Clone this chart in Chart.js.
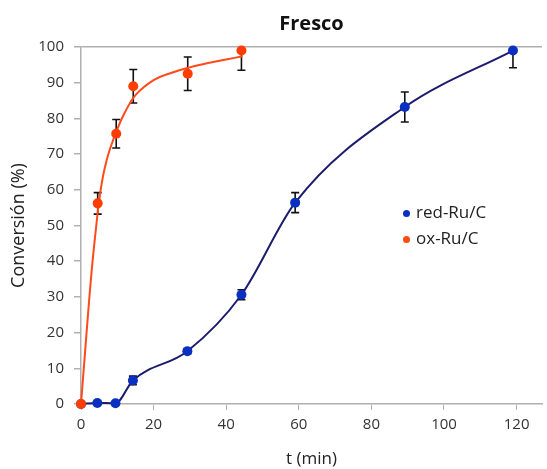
<!DOCTYPE html>
<html>
<head>
<meta charset="utf-8">
<script src="https://cdn.jsdelivr.net/npm/chart.js@4"></script>
<style>
    html, body { margin: 0; padding: 0; background: #fff; }
    #wrap { position: relative; width: 547px; height: 469px; }
    .leg { position: absolute; font: 17px 'Open Sans', sans-serif; color: #222; white-space: nowrap; }
    .leg span { display: inline-block; width: 7px; height: 7px; border-radius: 50%; margin-right: 6px; vertical-align: middle; }
</style>
</head>
<body>
<div id="wrap">
    <canvas id="chart" width="547" height="469"></canvas>
    <div class="leg" style="left:403px; top:200px;"><span style="background:#0B2FC0"></span>red-Ru/C</div>
    <div class="leg" style="left:403px; top:226px;"><span style="background:#FF4A10"></span>ox-Ru/C</div>
</div>
<script>
// red-Ru/C measurements (time in min, conversion in %)
const tRed = [0, 4.5, 9.5, 14.3, 29.3, 44.2, 59, 89.2, 119];
const convRed = [0, 0.3, 0.2, 6.6, 14.8, 30.6, 56.4, 83.2, 99];
const errRed = [0, 0, 0, 1.2, 0.7, 1.4, 2.8, 4.2, 4.8];

// ox-Ru/C measurements
const tOx = [0, 4.6, 9.7, 14.4, 29.4, 44.2];
const convOx = [0, 56.2, 75.7, 89, 92.5, 99];
const errOx = [0, 3, 4, 4.7, 4.7, 5.5];

// ox-Ru/C fitted curve
const tFit = [0, 1, 2, 3, 4, 5, 6, 7, 8, 10, 12, 15, 20, 25, 30, 35, 40, 44.5];
const convFit = [0, 13, 26, 38, 48, 57, 63.5, 68, 71.5, 77, 81.5, 86.5, 90.7, 92.8, 94.3, 95.5, 96.5, 97.4];

const xTicks = [0, 20, 40, 60, 80, 100, 120];

const toPoints = (xs, ys) => xs.map((x, i) => ({ x: x, y: ys[i] }));

// error bars drawn under the markers
const errorBars = {
    id: 'errorBars',
    beforeDatasetsDraw(chart) {
        const ctx = chart.ctx;
        const xs = chart.scales.x, ys = chart.scales.y;
        const area = chart.chartArea;
        ctx.save();
        ctx.beginPath();
        ctx.rect(area.left, area.top, area.right - area.left, area.bottom - area.top);
        ctx.clip();
        ctx.strokeStyle = '#111';
        ctx.lineWidth = 1.6;
        [[tOx, convOx, errOx], [tRed, convRed, errRed]].forEach(([t, c, e]) => {
            t.forEach((tv, i) => {
                if (!e[i]) return;
                const px = xs.getPixelForValue(tv);
                const top = ys.getPixelForValue(c[i] + e[i]);
                const bot = ys.getPixelForValue(c[i] - e[i]);
                ctx.beginPath();
                ctx.moveTo(px, top); ctx.lineTo(px, bot);
                ctx.moveTo(px - 4, top); ctx.lineTo(px + 4, top);
                ctx.moveTo(px - 4, bot); ctx.lineTo(px + 4, bot);
                ctx.stroke();
            });
        });
        ctx.restore();
    }
};

new Chart(document.getElementById('chart'), {
    type: 'scatter',
    data: {
        datasets: [
            {
                label: 'ox-Ru/C',
                data: toPoints(tOx, convOx),
                backgroundColor: '#FF3D00',
                pointRadius: 5,
                pointBorderWidth: 0,
                showLine: false,
                clip: false
            },
            {
                label: 'ox-Ru/C fit',
                data: toPoints(tFit, convFit),
                borderColor: '#FF4A1A',
                borderWidth: 2,
                pointRadius: 0,
                showLine: true,
                tension: 0.4,
                clip: false
            },
            {
                label: 'red-Ru/C',
                data: toPoints(tRed, convRed),
                borderColor: '#1C1C6C',
                backgroundColor: '#0B2FC0',
                borderWidth: 2,
                pointRadius: 5,
                pointBorderWidth: 0,
                showLine: true,
                cubicInterpolationMode: 'monotone',
                clip: false
            }
        ]
    },
    options: {
        responsive: false,
        animation: false,
        layout: { padding: { top: 0, right: 0, bottom: 0, left: 0 } },
        plugins: {
            legend: { display: false },
            tooltip: { enabled: false },
            title: {
                display: true,
                text: 'Fresco',
                fullSize: false,
                color: '#111',
                font: { family: 'Open Sans', size: 20, weight: 'bold' },
                padding: { top: 12, bottom: 11 }
            }
        },
        scales: {
            x: {
                type: 'linear',
                min: 0,
                max: 127,
                afterBuildTicks: s => { s.ticks = xTicks.map(v => ({ value: v })); },
                afterFit: s => { s.height = 65; },
                grid: { drawOnChartArea: false, drawTicks: true, tickLength: 6, tickColor: '#b0b0b0' },
                border: { color: '#b0b0b0', width: 1.5 },
                ticks: { color: '#333', padding: 6, font: { family: 'Open Sans', size: 15 }, maxRotation: 0 },
                title: {
                    display: true, text: 't (min)', color: '#222',
                    font: { family: 'Open Sans', size: 17 }, padding: { top: 0, bottom: 0 }
                }
            },
            y: {
                min: 0,
                max: 100,
                ticks: { stepSize: 10, color: '#333', padding: 10, font: { family: 'Open Sans', size: 15 } },
                afterFit: s => { s.width = 81; },
                grid: {
                    color: ctx => ctx.tick && ctx.tick.value === 100 ? '#b0b0b0' : 'rgba(0,0,0,0)',
                    tickColor: '#b0b0b0',
                    tickLength: 7,
                    lineWidth: 1.5
                },
                border: { color: '#b0b0b0', width: 1.5 },
                title: {
                    display: true, text: 'Conversión (%)', color: '#222',
                    font: { family: 'Open Sans', size: 18 }, padding: { top: 8, bottom: 0 }
                }
            }
        }
    },
    plugins: [errorBars]
});
</script>
</body>
</html>
